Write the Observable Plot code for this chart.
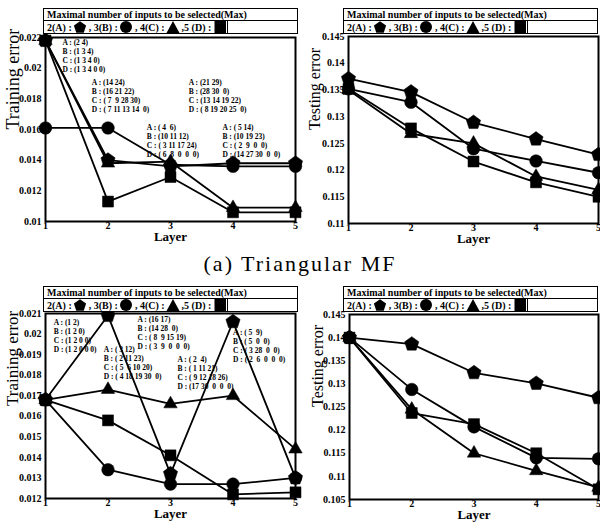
<!DOCTYPE html>
<html>
<head>
<meta charset="utf-8">
<script src="https://cdn.jsdelivr.net/npm/d3@7"></script>
<script src="https://cdn.jsdelivr.net/npm/@observablehq/plot@0.6"></script>
<style>
  body { margin: 0; background: #fff; }
  #root { position: relative; width: 600px; height: 524px; overflow: hidden; font-family: "Liberation Serif", "DejaVu Serif", serif; }
  svg text { white-space: pre; }
  .lg { position: absolute; width: 255px; border: 1.5px solid #000; box-sizing: border-box; font: bold 10px "Liberation Serif", serif; background: #fff; }
  .lg .r1 { height: 11px; line-height: 11px; padding-left: 3px; border-bottom: 1.5px solid #000; white-space: nowrap; }
  .lg .r2 { height: 12px; line-height: 12px; padding-left: 3px; white-space: pre; }
  .lg .r2 .c { display: inline-block; height: 12px; border-right: 1.5px solid #000; padding-right: 1px; }
  .lg svg { vertical-align: -2px; }
  .cap { position: absolute; left: 0; width: 600px; top: 251px; text-align: center; font: 22px "Liberation Serif", serif; letter-spacing: 2px; line-height: 26px; }
</style>
</head>
<body>
<div id="root"></div>
<script>
// ---------- data ----------
const layers = [1, 2, 3, 4, 5];
const seriesKeys = ["A", "B", "C", "D"];
const legendTitle = "Maximal number of inputs to be selected(Max)";
const legendLabels = ["2(A) : ", " , 3(B) : ", " , 4(C) : ", " ,5 (D) : "];
const captionText = "(a) Triangular MF";

// (a) Triangular MF — training error
const triTrainA = [0.0218, 0.0140, 0.0136, 0.0138, 0.0138];
const triTrainB = [0.0161, 0.0161, 0.0137, 0.0136, 0.0136];
const triTrainC = [0.0218, 0.0138, 0.0139, 0.0109, 0.0109];
const triTrainD = [0.0218, 0.0113, 0.0129, 0.0106, 0.0106];
const triTrainTicks = [0.01, 0.012, 0.014, 0.016, 0.018, 0.02, 0.022];

// (a) Triangular MF — testing error
const triTestA = [0.1371, 0.1346, 0.1289, 0.1258, 0.1229];
const triTestB = [0.1352, 0.1327, 0.1240, 0.1217, 0.1195];
const triTestC = [0.1350, 0.1268, 0.1250, 0.1188, 0.1163];
const triTestD = [0.1352, 0.1278, 0.1216, 0.1177, 0.1150];
const triTestTicks = [0.11, 0.115, 0.12, 0.125, 0.13, 0.135, 0.14, 0.145];

// lower pair — training error
const lowTrainA = [0.0168, 0.0209, 0.0132, 0.0206, 0.0130];
const lowTrainB = [0.0168, 0.0134, 0.0127, 0.0127, 0.0130];
const lowTrainC = [0.0168, 0.0173, 0.0166, 0.0170, 0.0144];
const lowTrainD = [0.0168, 0.0158, 0.0141, 0.0122, 0.0123];
const lowTrainTicks = [0.012, 0.013, 0.014, 0.015, 0.016, 0.017, 0.018, 0.019, 0.02, 0.021];

// lower pair — testing error
const lowTestA = [0.1400, 0.1386, 0.1324, 0.1301, 0.1270];
const lowTestB = [0.1400, 0.1288, 0.1207, 0.1140, 0.1138];
const lowTestC = [0.1400, 0.1245, 0.1150, 0.1112, 0.1076];
const lowTestD = [0.1400, 0.1237, 0.1213, 0.1150, 0.1072];
const lowTestTicks = [0.105, 0.11, 0.115, 0.12, 0.125, 0.13, 0.135, 0.14, 0.145];

// selected-input annotations (text only)
const triTrainNotes = [
  "A : (2 4)\nB : (1 3 4)\nC : (1 3 4 0)\nD : (1 3 4 0 0)",
  "A : (14 24)\nB : (16 21 22)\nC : ( 7  9 28 30)\nD : ( 7 11 13 14  0)",
  "A : (21 29)\nB : (28 30  0)\nC : (13 14 19 22)\nD : ( 8 19 20 25  0)",
  "A : ( 4  6)\nB : (10 11 12)\nC : ( 3 11 17 24)\nD : ( 6  8  0  0  0)",
  "A : ( 5 14)\nB : (10 19 23)\nC : ( 2  9  0  0)\nD : (14 27 30  0  0)"
];
const lowTrainNotes = [
  "A : (1 2)\nB : (1 2 0)\nC : (1 2 0 0)\nD : (1 2 0 0 0)",
  "A : ( 3 12)\nB : ( 2 11 23)\nC : ( 5  6 10 20)\nD : ( 4 18 19 30  0)",
  "A : (16 17)\nB : (14 28  0)\nC : ( 8  9 15 19)\nD : ( 3  9  0  0  0)",
  "A : ( 2  4)\nB : ( 1 11 21)\nC : ( 9 12 18 26)\nD : (17 30  0  0  0)",
  "A : ( 5  9)\nB : ( 5  0  0)\nC : ( 3 28  0  0)\nD : ( 2  6  0  0  0)"
];

// ---------- layout (anchors of annotation blocks in data coordinates) ----------
const triTrainNoteAt = [[1.27, 0.0219], [1.74, 0.01935], [3.29, 0.01935], [2.62, 0.0164], [3.83, 0.0164]];
const lowTrainNoteAt = [[1.13, 0.02075], [1.93, 0.01943], [2.47, 0.02089], [3.11, 0.01895], [4.0, 0.02026]];

// ---------- symbols ----------
const pentagon = {
  draw(context, size) {
    const R = Math.sqrt(size / 2.3776);
    for (let i = 0; i < 5; i++) {
      const a = -Math.PI / 2 + i * 2 * Math.PI / 5;
      const px = R * Math.cos(a), py = R * Math.sin(a);
      if (i) context.lineTo(px, py); else context.moveTo(px, py);
    }
    context.closePath();
  }
};
const symbolOf = { A: pentagon, B: "circle", C: "triangle", D: "square" };
const radiusOf = { A: 6.5, B: 6.3, C: 5, D: 6.2 };

const fmt = d => String(+d.toFixed(4));

function makePanel(cfg) {
  const rows = layers.map((L, i) => ({ layer: L, A: cfg.series[0][i], B: cfg.series[1][i], C: cfg.series[2][i], D: cfg.series[3][i] }));
  const marks = [];
  for (const k of seriesKeys) {
    marks.push(Plot.line(rows, { x: "layer", y: k, stroke: "black", strokeWidth: 1.8 }));
  }
  for (const k of seriesKeys) {
    marks.push(Plot.dot(rows, { x: "layer", y: k, symbol: symbolOf[k], r: radiusOf[k], fill: "black", stroke: "black", strokeWidth: 0.5 }));
  }
  if (cfg.notes) {
    const notes = cfg.notes.map((t, i) => ({ t, x: cfg.noteAt[i][0], y: cfg.noteAt[i][1] }));
    marks.push(Plot.text(notes, { x: "x", y: "y", text: "t", textAnchor: "start", lineAnchor: "top", fontSize: 7.5, fontWeight: "bold", lineHeight: 1.2 }));
  }
  marks.push(Plot.frame({ stroke: "black", strokeWidth: 2 }));
  marks.push(Plot.axisX({ ticks: layers, tickFormat: d => String(d), tickSize: 0, tickPadding: 0, fontSize: 10, fontWeight: "bold", label: null }));
  marks.push(Plot.axisY({ ticks: cfg.ticks, tickFormat: fmt, tickSize: 0, tickPadding: 4, fontSize: 10, fontWeight: "bold", label: null }));
  marks.push(Plot.text(["Layer"], { text: d => d, frameAnchor: "bottom", dy: cfg.layerDy, fontSize: cfg.layerSize, fontWeight: "bold" }));
  marks.push(Plot.text([cfg.ylabel], { text: d => d, frameAnchor: "left", dx: cfg.ylabelDx, rotate: -90, fontSize: cfg.ylabelSize }));
  const svg = Plot.plot({
    width: 300, height: cfg.height,
    marginLeft: cfg.m[3], marginRight: cfg.m[1], marginTop: cfg.m[0], marginBottom: cfg.m[2],
    x: { domain: [1, 5] },
    y: { domain: cfg.domain },
    style: { fontFamily: "'Liberation Serif', 'DejaVu Serif', serif", background: "transparent", overflow: "visible", color: "black" },
    marks
  });
  svg.style.position = "absolute";
  svg.style.left = cfg.left + "px";
  svg.style.top = cfg.top + "px";
  return svg;
}

function symSvg(k) {
  const s = 12, c = 6;
  let shape;
  if (k === "A") {
    const pts = d3.range(5).map(i => { const a = -Math.PI / 2 + i * 2 * Math.PI / 5; return [c + 6.4 * Math.cos(a), c + 0.6 + 6.4 * Math.sin(a)].join(","); }).join(" ");
    shape = `<polygon points="${pts}" fill="#000"/>`;
  } else if (k === "B") shape = `<circle cx="6" cy="6" r="6" fill="#000"/>`;
  else if (k === "C") shape = `<polygon points="6,0 12.5,12 -0.5,12" fill="#000"/>`;
  else shape = `<rect x="0.5" y="0" width="11.5" height="12" fill="#000"/>`;
  return `<svg width="${s}" height="${s}" style="overflow:visible">${shape}</svg>`;
}

function legend(left, top) {
  const div = document.createElement("div");
  div.className = "lg";
  div.style.left = left + "px";
  div.style.top = top + "px";
  const r1 = document.createElement("div");
  r1.className = "r1";
  r1.textContent = legendTitle;
  const r2 = document.createElement("div");
  r2.className = "r2";
  const c = document.createElement("span");
  c.className = "c";
  c.innerHTML = seriesKeys.map((k, i) => legendLabels[i] + symSvg(k)).join("");
  r2.appendChild(c);
  div.appendChild(r1);
  div.appendChild(r2);
  return div;
}

const root = document.getElementById("root");

root.appendChild(makePanel({
  series: [triTrainA, triTrainB, triTrainC, triTrainD], ticks: triTrainTicks, domain: [0.01, 0.022],
  notes: triTrainNotes, noteAt: triTrainNoteAt,
  left: 0, top: 0, height: 260, m: [37, 5, 39, 45],
  ylabel: "Training error", ylabelDx: -32, ylabelSize: 18, layerDy: 19, layerSize: 13
}));
root.appendChild(makePanel({
  series: [triTestA, triTestB, triTestC, triTestD], ticks: triTestTicks, domain: [0.11, 0.145],
  left: 300, top: 0, height: 260, m: [36, 2, 37, 48],
  ylabel: "Testing error", ylabelDx: -34, ylabelSize: 16, layerDy: 19, layerSize: 13
}));
root.appendChild(makePanel({
  series: [lowTrainA, lowTrainB, lowTrainC, lowTrainD], ticks: lowTrainTicks, domain: [0.012, 0.021],
  notes: lowTrainNotes, noteAt: lowTrainNoteAt,
  left: 0, top: 262, height: 262, m: [51, 5, 26, 45],
  ylabel: "Training error", ylabelDx: -33, ylabelSize: 17, layerDy: 19, layerSize: 13
}));
root.appendChild(makePanel({
  series: [lowTestA, lowTestB, lowTestC, lowTestD], ticks: lowTestTicks, domain: [0.105, 0.145],
  left: 300, top: 262, height: 262, m: [52, 2, 25, 49],
  ylabel: "Testing error", ylabelDx: -32, ylabelSize: 16, layerDy: 19, layerSize: 13
}));

root.appendChild(legend(43, 8));
root.appendChild(legend(343, 8));
root.appendChild(legend(43, 286));
root.appendChild(legend(343, 286));

const cap = document.createElement("div");
cap.className = "cap";
cap.textContent = captionText;
root.appendChild(cap);
</script>
</body>
</html>
